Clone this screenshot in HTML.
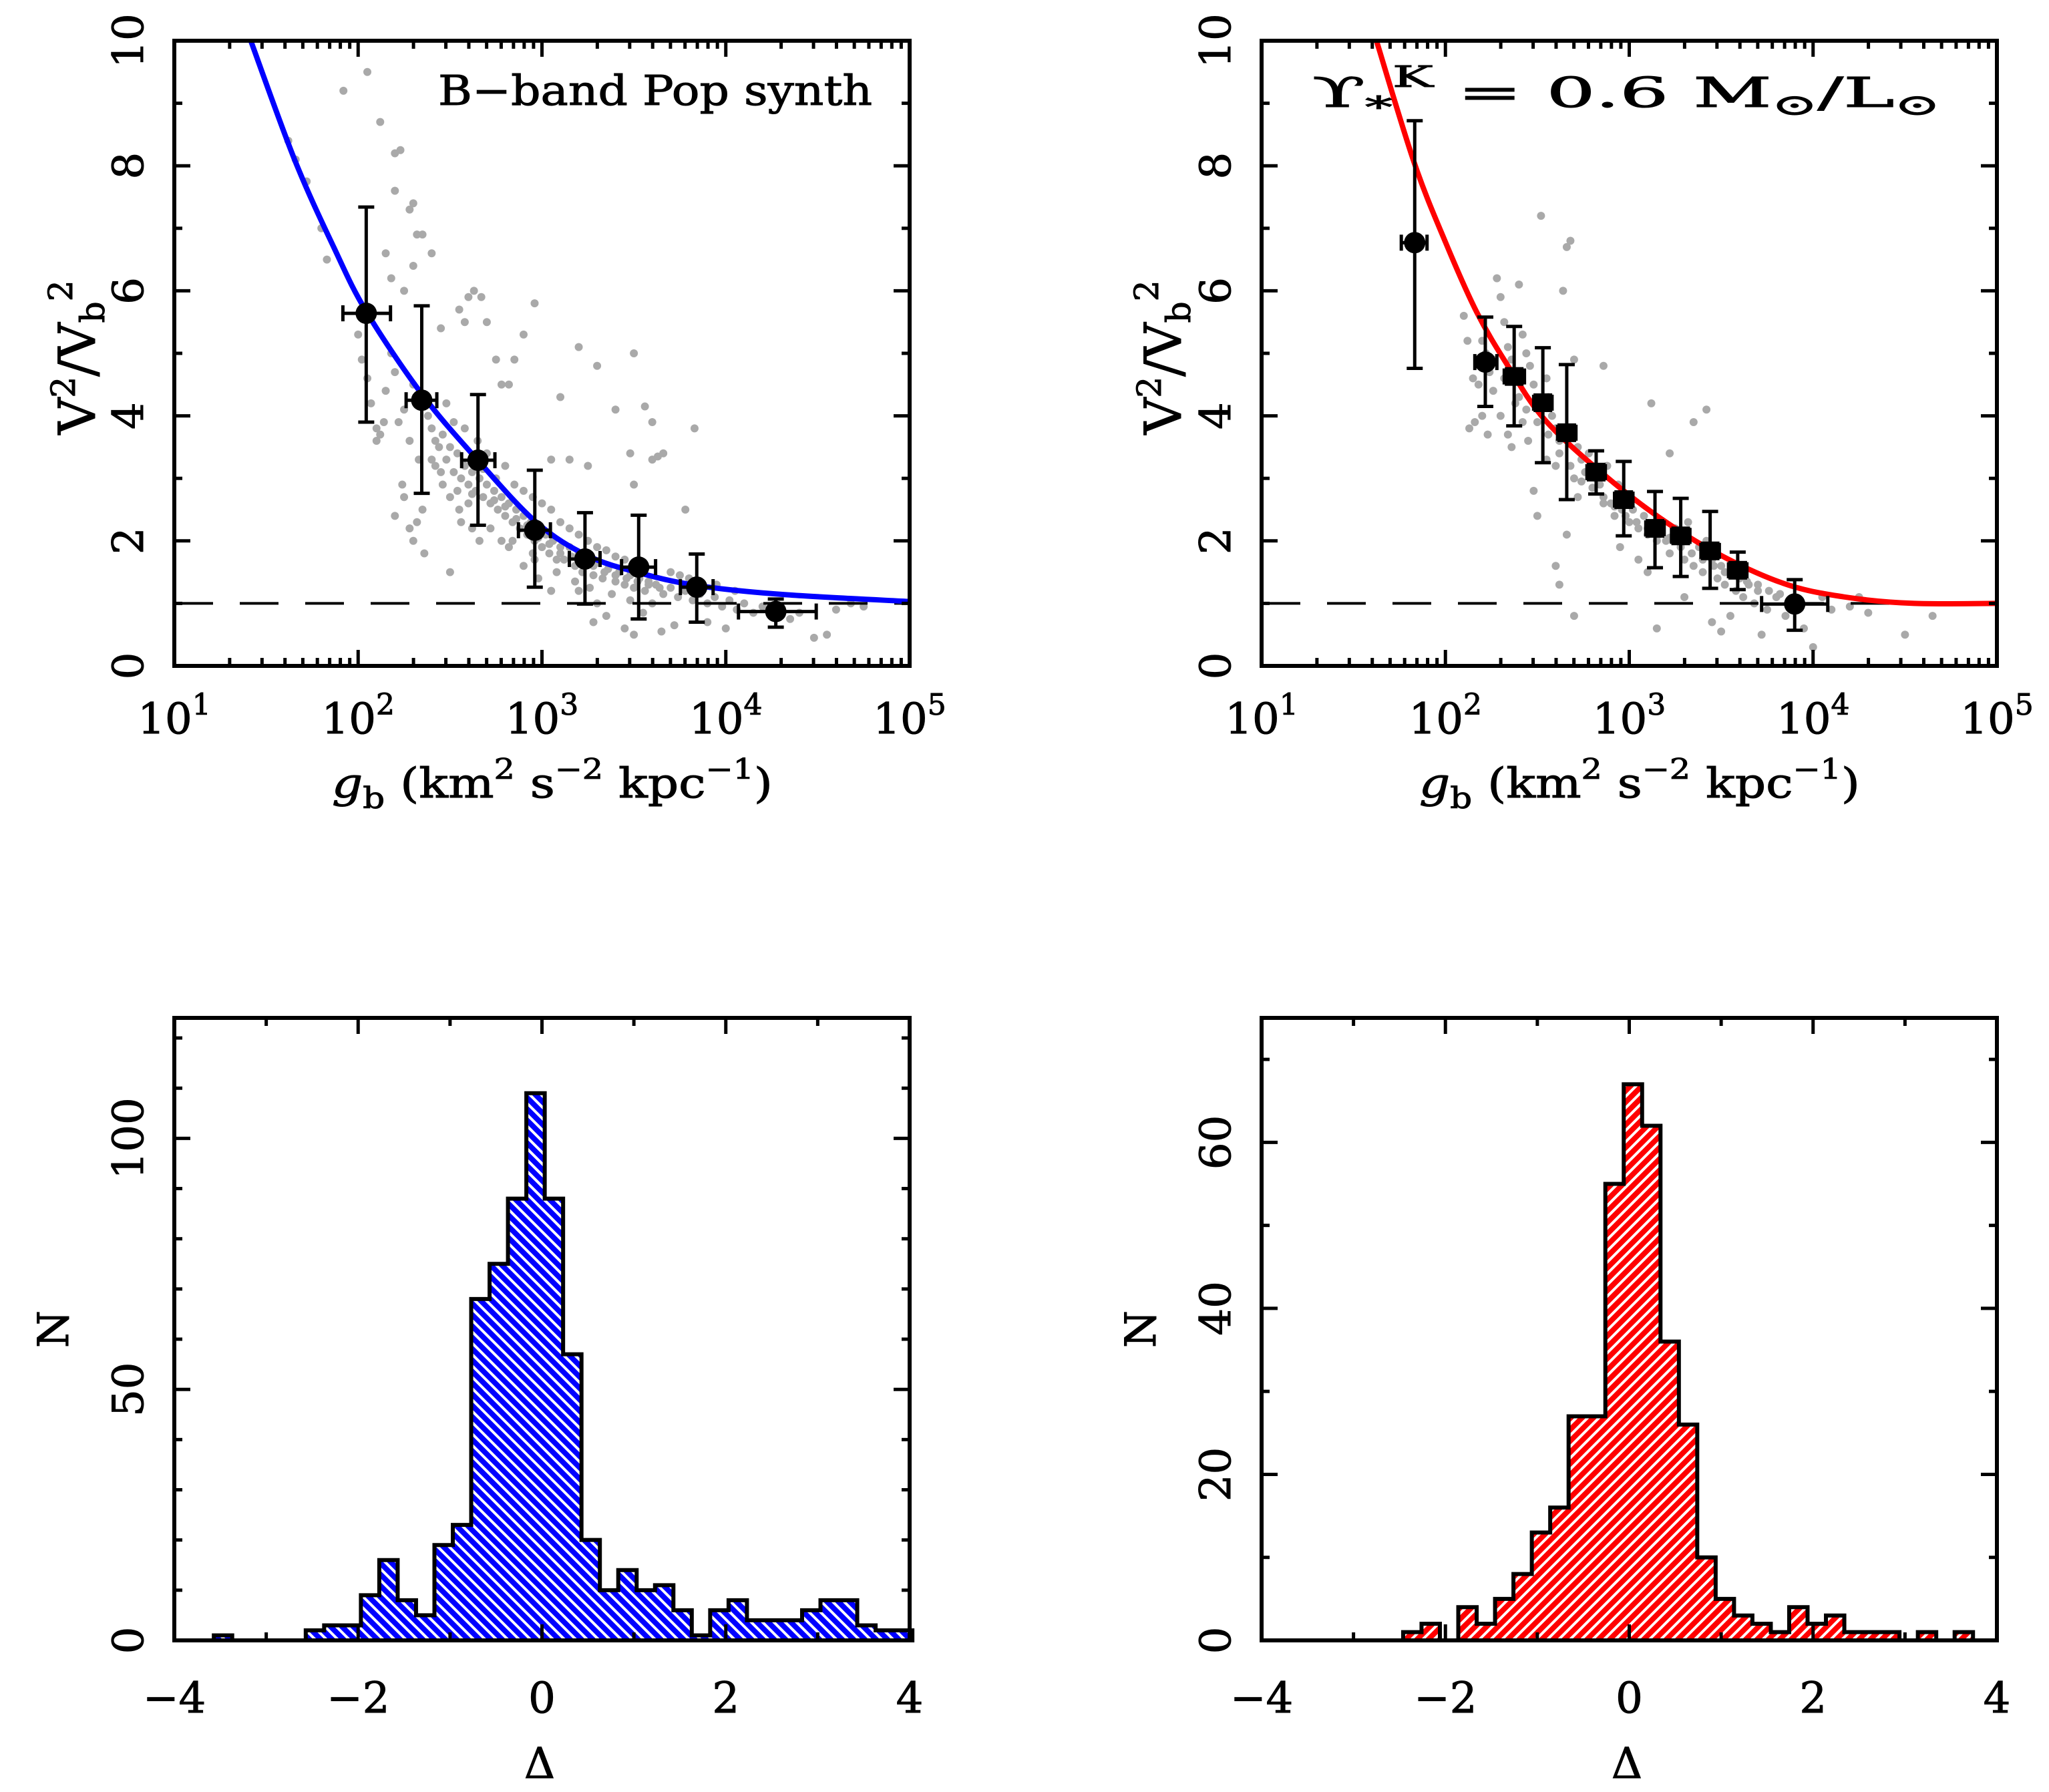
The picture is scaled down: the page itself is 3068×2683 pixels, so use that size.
<!DOCTYPE html>
<html><head><meta charset="utf-8"><style>
html,body{margin:0;padding:0;background:#fff}
svg{display:block}
text{font-family:"DejaVu Serif","Liberation Serif",serif;fill:#000;stroke:#000;stroke-width:1}
</style></head><body>
<svg id="fig" width="3068" height="2683" viewBox="0 0 3068 2683" xmlns="http://www.w3.org/2000/svg">
<defs>
<pattern id="hatchBlue" width="12" height="12" patternUnits="userSpaceOnUse" patternTransform="rotate(-45)">
<rect width="12" height="12" fill="#0000ff"/><rect x="0" y="0" width="4" height="12" fill="#fff"/></pattern>
<pattern id="hatchRed" width="12" height="12" patternUnits="userSpaceOnUse" patternTransform="rotate(45)">
<rect width="12" height="12" fill="#ff0000"/><rect x="0" y="0" width="4" height="12" fill="#fff"/></pattern>
</defs>
<g id="root"></g>
</svg>
<script>
// ---- Data: top-left (B-band) ----
const curveA_logg=[1.416,1.654,1.867,2.044,2.346,2.648,2.968,3.25,3.54,3.856,4.32,5.0];
const curveA_y=[10,8.1,6.7,5.67,4.35,3.3,2.3,1.76,1.48,1.28,1.14,1.03];
const binA_logg=[2.044,2.346,2.652,2.961,3.234,3.526,3.842,4.272];
const binA_y=[5.64,4.25,3.29,2.17,1.71,1.58,1.26,0.87];
const binA_ylo=[3.9,2.76,2.25,1.26,0.99,0.75,0.7,0.62];
const binA_yhi=[7.34,5.76,4.34,3.13,2.45,2.41,1.79,1.07];
const binA_xlo=[1.917,2.261,2.563,2.872,3.149,3.433,3.753,4.069];
const binA_xhi=[2.176,2.428,2.744,3.046,3.316,3.618,3.931,4.492];
const scatA=[[1.62,8.4],[1.66,8.1],[1.72,7.75],[1.8,7.0],[1.83,6.5],[1.92,9.2],[2.05,9.5],[2.12,8.7],[2.2,8.2],[2.23,8.25],[2.2,7.6],[2.28,7.3],[2.3,7.4],[2.32,6.9],[2.3,6.4],[2.35,6.9],[2.4,6.6],[2.15,6.6],[2.18,6.2],[2.25,6.0],[2.45,5.4],[2.55,5.7],[2.6,5.9],[2.63,6.0],[2.67,5.9],[2.58,5.5],[2.7,5.5],[2.78,4.5],[2.82,4.5],[2.9,5.3],[2.96,5.8],[2.85,4.9],[2.75,4.9],[3.1,4.3],[3.2,5.1],[3.3,4.8],[3.5,5.0],[3.4,4.1],[3.56,4.15],[3.6,3.9],[3.48,3.4],[3.6,3.3],[3.63,3.35],[3.66,3.4],[3.5,2.9],[3.83,3.8],[3.78,2.5],[3.25,3.2],[3.15,3.3],[3.05,3.3],
[2.0,5.3],[2.02,4.9],[2.05,4.6],[2.07,4.2],[2.1,3.8],[2.12,3.7],[2.15,4.4],[2.18,5.0],[2.2,4.7],[2.22,3.9],[2.25,4.1],[2.28,3.6],[2.3,4.5],[2.33,3.3],[2.1,3.6],[2.14,3.9],[2.24,2.9],[2.2,2.4],[2.28,2.2],[2.3,2.0],[2.35,2.5],[2.36,1.8],[2.25,2.7],[2.32,2.3],
[2.38,4.0],[2.4,3.8],[2.42,3.6],[2.44,3.5],[2.46,3.7],[2.48,3.3],[2.5,3.5],[2.52,3.1],[2.54,3.4],[2.56,3.0],[2.58,3.2],[2.6,2.9],[2.62,3.1],[2.64,2.8],[2.66,3.0],[2.68,2.7],[2.7,2.9],[2.45,3.1],[2.5,2.7],[2.55,2.5],[2.6,2.6],[2.48,4.2],[2.52,3.9],[2.58,3.8],[2.65,3.6],[2.7,3.4],[2.42,3.2],[2.56,2.3],[2.62,2.2],[2.5,1.5],[2.66,2.0],
[2.72,2.6],[2.74,2.8],[2.76,2.5],[2.78,2.7],[2.8,2.4],[2.82,2.6],[2.84,2.3],[2.86,2.5],[2.88,2.2],[2.9,2.4],[2.92,2.1],[2.94,2.3],[2.96,2.0],[2.98,2.2],[3.0,1.9],[3.02,2.1],[3.04,1.8],[3.06,2.0],[3.08,1.7],[3.1,1.9],[2.75,3.0],[2.8,3.2],[2.85,2.9],[2.9,2.8],[2.95,2.7],[3.0,2.6],[3.05,2.5],[3.1,2.3],[2.82,1.9],[2.9,1.6],[2.98,1.4],[3.05,1.2],[2.78,2.0],[2.95,1.8],
[3.12,1.7],[3.15,1.9],[3.18,1.6],[3.2,1.8],[3.22,1.5],[3.25,1.7],[3.28,1.45],[3.3,1.65],[3.33,1.4],[3.36,1.55],[3.4,1.35],[3.42,1.5],[3.45,1.3],[3.48,1.45],[3.5,1.25],[3.53,1.4],[3.56,1.2],[3.58,1.35],[3.15,2.2],[3.2,2.1],[3.25,2.0],[3.3,1.9],[3.35,1.85],[3.4,1.75],[3.45,1.7],[3.5,1.6],[3.2,1.2],[3.3,1.0],[3.35,0.8],[3.45,0.6],[3.5,0.5],[3.55,0.85],[3.28,0.7],
[3.62,1.3],[3.66,1.15],[3.7,1.25],[3.74,1.1],[3.78,1.2],[3.82,1.05],[3.86,1.15],[3.9,1.0],[3.94,1.1],[3.98,0.95],[4.02,1.05],[4.06,0.9],[4.1,1.0],[4.15,0.85],[4.2,0.95],[4.25,0.8],[4.3,0.9],[4.35,0.75],[4.4,0.85],[4.48,0.45],[4.55,0.5],[4.6,0.9],[4.75,0.95],[4.68,1.0],[3.7,1.5],[3.75,1.45],[3.8,1.4],[3.65,0.55],[3.72,0.65],[3.9,0.7],[4.0,0.6],[3.95,1.3],[4.05,1.2],
[2.62,2.75],[2.68,3.15],[2.74,2.65],[2.8,2.55],[2.86,2.35],[2.92,2.25],[2.98,2.05],[3.04,1.95],[3.1,1.8],[3.16,1.75],[3.22,1.65],[3.28,1.6],[3.34,1.5],[3.4,1.45],[3.46,1.4],[3.52,1.35],[3.58,1.3],[3.64,1.25],[2.72,2.2],[2.84,2.0],[2.96,1.7],[3.08,1.5],[3.18,1.35],[3.26,1.25],[3.38,1.15],[3.48,1.05],[3.6,1.0],[2.4,3.3],[2.46,2.9],[2.54,2.8]];
// ---- Data: top-right (K-band) ----
const curveB_logg=[1.625,1.829,2.0,2.17,2.34,2.54,2.85,3.19,3.53,3.87,4.2,4.55,5.0];
const curveB_y=[10,8.06,6.78,5.66,4.8,3.94,3.09,2.32,1.72,1.29,1.09,1.0,1.0];
const binB_logg=[1.833,2.217,2.374,2.53,2.66,2.82,2.97,3.14,3.28,3.44,3.59,3.90];
const binB_y=[6.77,4.86,4.63,4.21,3.73,3.10,2.66,2.20,2.08,1.84,1.53,0.99];
const binB_ylo=[4.76,4.15,3.84,3.25,2.66,2.75,2.08,1.57,1.43,1.24,1.22,0.57];
const binB_yhi=[8.72,5.58,5.43,5.09,4.82,3.44,3.27,2.79,2.68,2.47,1.82,1.38];
const binB_xlo=[1.76,2.16,2.32,2.48,2.61,2.77,2.92,3.09,3.23,3.39,3.54,3.72];
const binB_xhi=[1.90,2.28,2.43,2.58,2.71,2.87,3.02,3.19,3.33,3.49,3.64,4.08];
const binB_shape=["c","c","s","s","s","s","s","s","s","s","s","c"];
const scatB=[[2.1,5.6],[2.12,5.2],[2.15,4.6],[2.13,3.8],[2.16,3.9],[2.18,4.5],[2.2,5.2],[2.22,5.0],[2.24,4.7],[2.26,4.4],[2.2,4.0],[2.23,3.7],[2.28,6.2],[2.3,5.9],[2.32,5.5],[2.34,5.1],[2.36,4.9],[2.38,4.6],[2.4,4.3],[2.3,4.0],[2.34,3.7],[2.36,3.5],[2.4,6.1],[2.42,5.3],[2.44,5.0],[2.46,4.8],[2.48,4.5],[2.5,4.2],[2.42,3.9],[2.45,3.6],[2.48,2.8],[2.5,2.4],[2.52,7.2],[2.55,4.6],[2.56,4.3],[2.58,4.0],[2.6,3.8],[2.62,3.6],[2.55,3.3],[2.6,3.2],[2.64,6.0],[2.66,6.7],[2.68,6.8],[2.7,4.9],[2.72,3.5],[2.74,3.3],[2.76,3.1],[2.78,3.4],[2.7,3.0],[2.72,2.7],[2.6,1.6],[2.62,1.3],[2.66,2.1],[2.7,0.8],[2.8,3.2],[2.82,3.0],[2.84,2.9],[2.86,2.7],[2.88,3.2],[2.9,2.6],[2.92,2.4],[2.94,2.9],[2.96,2.5],[2.98,2.7],[2.86,4.8],[3.0,2.3],[3.02,2.5],[3.05,2.2],[3.08,2.4],[3.1,2.1],[3.12,4.2],[3.15,2.0],[3.18,2.3],[3.2,2.0],[3.22,1.8],[3.25,2.2],[3.28,1.9],[3.3,1.7],[3.32,2.3],[3.35,1.6],[3.38,1.9],[3.4,1.5],[3.42,2.0],[3.45,1.7],[3.48,1.4],[3.5,1.6],[3.52,1.3],[3.55,1.5],[3.58,1.2],[3.6,1.4],[3.62,1.1],[3.65,1.3],[3.68,1.0],[3.7,1.2],[3.35,3.9],[3.42,4.1],[3.22,3.4],[3.15,0.6],[3.3,1.1],[3.45,0.7],[3.5,0.55],[3.55,0.8],[3.72,0.5],[3.75,0.9],[3.8,1.1],[3.85,0.8],[3.9,1.0],[3.95,0.6],[4.0,0.3],[4.05,1.1],[4.1,0.9],[4.2,0.95],[4.25,1.1],[4.3,0.85],[4.5,0.5],[4.65,0.8],[3.05,1.7],[3.1,1.5],[2.95,1.9],
[2.26,4.9],[2.32,4.6],[2.38,4.2],[2.44,4.1],[2.5,3.9],[2.56,3.7],[2.62,3.4],[2.68,3.2],[2.74,2.95],[2.8,2.85],[2.86,2.6],[2.92,2.55],[2.98,2.4],[3.04,2.3],[3.1,2.2],[3.16,2.1],[3.22,2.05],[3.28,1.95],[3.34,1.8],[3.4,1.7],[3.46,1.6],[3.52,1.5],[3.58,1.45],[3.64,1.35],[3.7,1.3],[3.76,1.2],[3.82,1.15]];
// ---- Data: histograms ----
const histC_start=-3.57;
const histC_width=0.2;
const histC_counts=[1,0,0,0,0,2,3,3,9,16,8,5,19,23,68,75,88,109,88,57,20,10,14,10,11,6,1,6,8,4,4,4,6,8,8,3,2,2];
const histD_start=-2.46;
const histD_width=0.2;
const histD_counts=[1,2,0,4,2,5,8,13,16,27,27,55,67,62,36,26,10,5,3,2,1,4,2,3,1,1,1,0,1,0,1];
const xTicksTop=["1","2","3","4","5"];
const yTicksTop=["0","2","4","6","8","10"];
const xTicksHist=["−4","−2","0","2","4"];
const yTicksHistC=["0","50","100"];
const yTicksHistD=["0","20","40","60"];

const NS="http://www.w3.org/2000/svg";
const root=document.getElementById('root');
function el(tag,attrs,parent){const e=document.createElementNS(NS,tag);for(const k in attrs)e.setAttribute(k,attrs[k]);(parent||root).appendChild(e);return e;}

function smoothPath(pts){
  let d=`M${pts[0][0]},${pts[0][1]}`;
  for(let i=0;i<pts.length-1;i++){
    const p0=pts[Math.max(0,i-1)],p1=pts[i],p2=pts[i+1],p3=pts[Math.min(pts.length-1,i+2)];
    const c1=[p1[0]+(p2[0]-p0[0])/6,p1[1]+(p2[1]-p0[1])/6];
    const c2=[p2[0]-(p3[0]-p1[0])/6,p2[1]-(p3[1]-p1[1])/6];
    d+=` C${c1[0]},${c1[1]} ${c2[0]},${c2[1]} ${p2[0]},${p2[1]}`;
  }
  return d;
}

function frameAndTicks(g,P,xMaj,xMin,yMaj,yMin){
  const tick=(x1,y1,x2,y2)=>el('line',{x1,y1,x2,y2,stroke:'#000','stroke-width':5},g);
  xMin.forEach(v=>{const x=P.sx(v);tick(x,P.y1,x,P.y1-12);tick(x,P.y0,x,P.y0+12);});
  xMaj.forEach(v=>{const x=P.sx(v);tick(x,P.y1,x,P.y1-24);tick(x,P.y0,x,P.y0+24);});
  yMin.forEach(v=>{const y=P.sy(v);tick(P.x0,y,P.x0+12,y);tick(P.x1,y,P.x1-12,y);});
  yMaj.forEach(v=>{const y=P.sy(v);tick(P.x0,y,P.x0+24,y);tick(P.x1,y,P.x1-24,y);});
  const f=el('rect',{x:P.x0,y:P.y0,width:P.x1-P.x0,height:P.y1-P.y0,fill:'none',stroke:'#000','stroke-width':6},g);
  
  
}

function yTickLabels(g,P,labels,xb){
  labels.forEach(s=>{const y=P.sy(parseFloat(s.replace('−','-')));
    const t=el('text',{x:xb,y:y,'font-size':64,'text-anchor':'middle',transform:`rotate(-90 ${xb} ${y})`},g);
    t.textContent=s;
    
    });
}

function topPanel(x0,key,color,curveX,curveY,bx,by,bylo,byhi,bxlo,bxhi,shapes,scat,ylabX,yTickX){
  const g=el('g',{});
  
  
  const P={x0:x0,x1:x0+1101,y0:61,y1:997};
  P.sx=v=>P.x0+(v-1)/4*(P.x1-P.x0);
  P.sy=v=>P.y1-v/10*(P.y1-P.y0);
  const sg=el('g',{},g);
  
  
  scat.forEach(p=>{const c=el('circle',{cx:P.sx(p[0]),cy:P.sy(p[1]),r:6,fill:'#a9a9a9'},sg);
    
    });
  const dl=el('line',{x1:P.x0,y1:P.sy(1),x2:P.x1,y2:P.sy(1),stroke:'#000','stroke-width':4,'stroke-dasharray':'58 40'},g);
  
  
  const pts=curveX.map((v,i)=>[P.sx(v),P.sy(curveY[i])]);
  const cp=el('path',{d:smoothPath(pts),fill:'none',stroke:color,'stroke-width':8},g);
  
  
  bx.forEach((v,i)=>{
    const bg=el('g',{},g);
    
    
    const x=P.sx(v),y=P.sy(by[i]),ylo=P.sy(bylo[i]),yhi=P.sy(byhi[i]),xl=P.sx(bxlo[i]),xh=P.sx(bxhi[i]);
    const L=(a,b,c,d)=>el('line',{x1:a,y1:b,x2:c,y2:d,stroke:'#000','stroke-width':5},bg);
    L(x,ylo,x,yhi);L(x-12,ylo,x+12,ylo);L(x-12,yhi,x+12,yhi);
    L(xl,y,xh,y);L(xl,y-12,xl,y+12);L(xh,y-12,xh,y+12);
    if(shapes&&shapes[i]==='s') el('rect',{x:x-14,y:y-14,width:28,height:28,fill:'#000'},bg);
    else el('circle',{cx:x,cy:y,r:16,fill:'#000'},bg);
  });
  const xMaj=[1,2,3,4,5],xMin=[];
  for(let d=1;d<5;d++)for(let k=2;k<10;k++)xMin.push(d+Math.log10(k));
  frameAndTicks(g,P,xMaj,xMin,[0,2,4,6,8,10],[1,3,5,7,9]);
  xTicksTop.forEach(s=>{const x=P.sx(parseFloat(s));
    const t=el('text',{x:x,y:1098,'font-size':64,'text-anchor':'middle'},g);
    t.innerHTML=`10<tspan dy="-28" font-size="44">${s}</tspan>`;
    
    });
  yTickLabels(g,P,yTicksTop,yTickX);
  const xt=el('text',{x:P.x0+566,y:1194,'font-size':62,'text-anchor':'middle',textLength:660,lengthAdjust:'spacingAndGlyphs'},g);
  xt.innerHTML='<tspan font-style="italic">g</tspan><tspan dy="16" font-size="44">b</tspan><tspan dy="-16"> (km</tspan><tspan dy="-28" font-size="42">2</tspan><tspan dy="28"> s</tspan><tspan dy="-28" font-size="42">−2</tspan><tspan dy="28"> kpc</tspan><tspan dy="-28" font-size="42">−1</tspan><tspan dy="28">)</tspan>';
  
  
  const ymid=535;
  const yt=el('text',{x:ylabX,y:ymid,'font-size':76,'text-anchor':'middle',transform:`rotate(-90 ${ylabX} ${ymid})`},g);
  yt.innerHTML='V<tspan dy="-30" font-size="50">2</tspan><tspan dy="30">/V</tspan><tspan dy="14" font-size="50">b</tspan><tspan dy="-48" font-size="50">2</tspan>';
  
  
  return g;
}

function histPanel(x0,key,fillId,start,width,counts,yMax,yMajVals,yMinStep,yLabels,ylabX,yTickX,xTitleX){
  const g=el('g',{});
  
  
  const P={x0:x0,x1:x0+1101,y0:1524,y1:2456};
  P.sx=v=>P.x0+(v+4)/8*(P.x1-P.x0);
  P.sy=v=>P.y1-v/yMax*(P.y1-P.y0);
  let d=`M${P.sx(start)},${P.sy(0)}`;
  counts.forEach((c,i)=>{const xa=P.sx(start+i*width),xb=P.sx(start+(i+1)*width);d+=` L${xa},${P.sy(c)} L${xb},${P.sy(c)}`;});
  d+=` L${P.sx(start+counts.length*width)},${P.sy(0)} Z`;
  const h=el('path',{d:d,fill:`url(#${fillId})`,stroke:'#000','stroke-width':6,'stroke-linejoin':'miter'},g);
  
  
  const yMin=[];for(let v=0;v<=yMax;v+=yMinStep)if(!yMajVals.includes(v))yMin.push(v);
  frameAndTicks(g,P,[-4,-2,0,2,4],[-3,-1,1,3],yMajVals,yMin);
  xTicksHist.forEach(s=>{const x=P.sx(parseFloat(s.replace('−','-')));
    const t=el('text',{x:x,y:2564,'font-size':64,'text-anchor':'middle'},g);
    t.textContent=s;
    
    });
  yTickLabels(g,P,yLabels,yTickX);
  const xt=el('text',{x:xTitleX,y:2662,'font-size':64,'text-anchor':'middle'},g);
  xt.textContent='Δ';
  
  
  const ym=1990;
  const yt=el('text',{x:ylabX,y:ym,'font-size':64,'text-anchor':'middle',transform:`rotate(-90 ${ylabX} ${ym})`},g);
  yt.textContent='N';
  
  
}

topPanel(261,'bband','#0000ff',curveA_logg,curveA_y,binA_logg,binA_y,binA_ylo,binA_yhi,binA_xlo,binA_xhi,null,scatA,142,214);
topPanel(1889,'kband','#ff0000',curveB_logg,curveB_y,binB_logg,binB_y,binB_ylo,binB_yhi,binB_xlo,binB_xhi,binB_shape,scatB,1768,1842);

const a1=el('text',{x:656,y:157,'font-size':62,textLength:650,lengthAdjust:'spacingAndGlyphs'});
a1.textContent='B−band Pop synth';


const a2=el('text',{x:1965,y:160,'font-size':62,textLength:940,lengthAdjust:'spacingAndGlyphs'});
a2.innerHTML='ϒ<tspan dy="16" font-size="44">*</tspan><tspan dy="-46" font-size="44">K</tspan><tspan dy="30"> = 0.6 M</tspan><tspan dy="12" font-size="44">⊙</tspan><tspan dy="-12">/L</tspan><tspan dy="12" font-size="44">⊙</tspan>';



histPanel(261,'bband','hatchBlue',histC_start,histC_width,histC_counts,124,[0,50,100],10,yTicksHistC,102,214,808);
histPanel(1889,'kband','hatchRed',histD_start,histD_width,histD_counts,75,[0,20,40,60],10,yTicksHistD,1730,1842,2436);
</script>
</body></html>
